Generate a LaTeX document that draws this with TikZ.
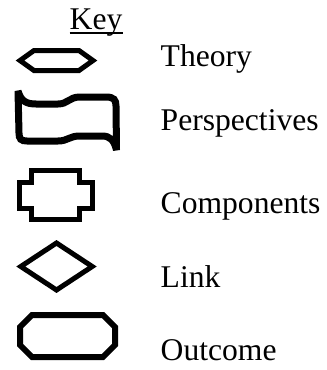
\documentclass[tikz,border=0pt]{standalone}
\usepackage{fontspec}
\setmainfont{Liberation Serif}
\usetikzlibrary{calc}

\begin{document}
\begin{tikzpicture}[
  x=1pt,y=-1pt,
  icon/.style={draw=black,line width=5pt,line join=miter},
  keylabel/.style={font=\fontsize{31.6}{36}\selectfont,anchor=base west,inner sep=0pt},
]
\useasboundingbox (0,0) rectangle (327,370);

% --- TITLE ---
\node[keylabel] (key) at (69.5,29) {Key};
\draw[line width=2pt] ($(key.base west)+(0,3.5)$) -- ($(key.base east)+(0,3.5)$);

% --- THEORY ---
\draw[icon] (20,60.5) -- (34,50.5) -- (79,50.5) -- (93,60.5) -- (79,70.5) -- (34,70.5) -- cycle;
\node[keylabel] (theory) at (160.5,66.5) {Theory};

% --- PERSPECTIVES ---
\draw[icon,line width=7pt,miter limit=3]
  (18,91) .. controls (21,101) and (26,104) .. (36,104) -- (58,104)
  .. controls (68,104) and (69,97) .. (80,97) -- (106,97)
  .. controls (114,97) and (116,100) .. (116,106) -- (116.5,150)
  .. controls (114,140) and (110,136) .. (102,136) -- (80,136)
  .. controls (69,136) and (68,141) .. (58,141) -- (27,141)
  .. controls (21,141) and (19,139) .. (19,133) -- cycle;
\node[keylabel] (persp) at (160.5,130.5) {Perspectives};

% --- COMPONENTS ---
\draw[icon] (31.5,170.5) -- (79.5,170.5) -- (79.5,182) -- (92.5,182) -- (92.5,208)
  -- (79.5,208) -- (79.5,219.5) -- (31.5,219.5) -- (31.5,208) -- (19.2,208)
  -- (19.2,182) -- (31.5,182) -- cycle;
\node[keylabel] (comp) at (160.5,213) {Components};

% --- LINK ---
\draw[icon] (20.8,266.5) -- (56.5,243) -- (92.2,266.5) -- (56.5,290) -- cycle;
\node[keylabel] (link) at (160.5,287.5) {Link};

% --- OUTCOME ---
\draw[icon,line width=6pt] (32,315) -- (103,315) -- (115,327) -- (115,345)
  -- (103,357) -- (32,357) -- (20,345) -- (20,327) -- cycle;
\node[keylabel] (outcome) at (160.5,360.5) {Outcome};

\end{tikzpicture}
\end{document}
